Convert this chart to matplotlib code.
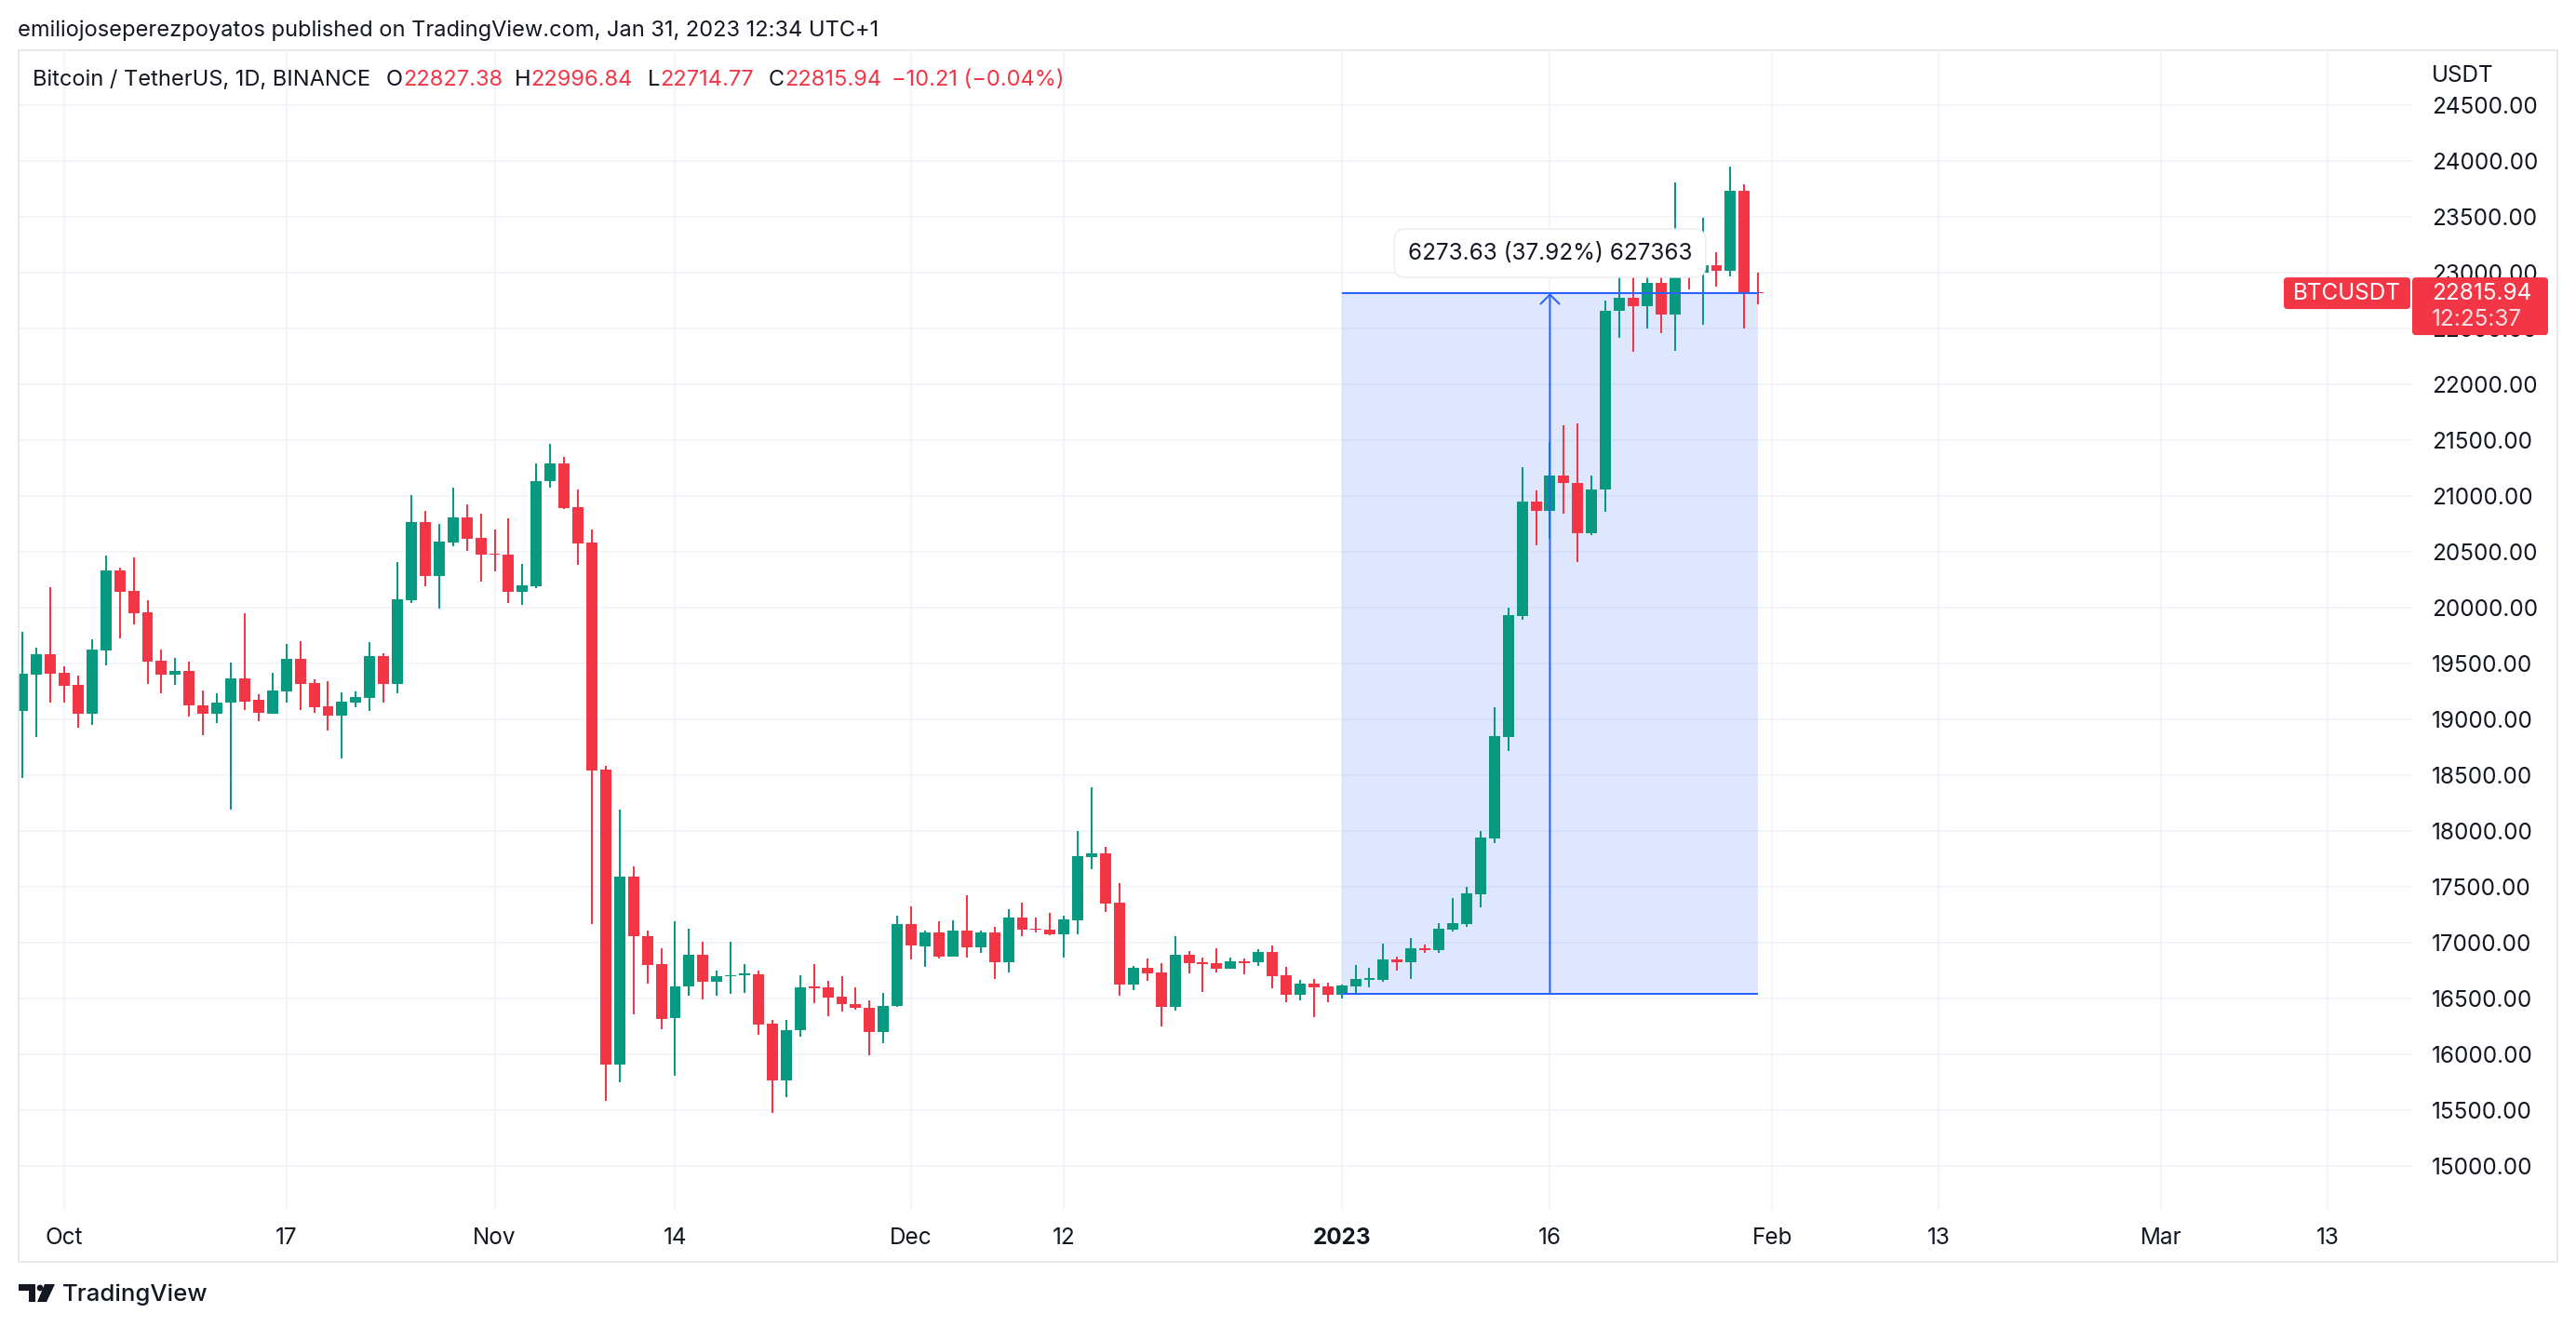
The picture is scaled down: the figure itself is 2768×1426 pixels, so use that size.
"""BTCUSDT daily candles (Binance), TradingView-style snapshot with a price-range measure.

    python plot.py   -> writes out.png
"""
import numpy as np
import pandas as pd
import matplotlib
matplotlib.use("Agg")
import matplotlib.pyplot as plt
import matplotlib.dates as mdates
from matplotlib.patches import FancyBboxPatch, Rectangle, Polygon, Circle
from matplotlib.transforms import IdentityTransform

plt.rcParams["font.family"] = ["Inter", "DejaVu Sans"]

# ---- data ----
dates = pd.date_range("2022-09-28", "2023-01-31", freq="D")
opens = [19071, 19403, 19583, 19417, 19309, 19046, 19619, 20331, 20148, 19957,
         19525, 19403, 19434, 19126, 19046, 19146, 19367, 19178, 19054, 19254,
         19541, 19326, 19118, 19030, 19154, 19195, 19567, 19320, 20068, 20763,
         20284, 20583, 20805, 20622, 20486, 20472, 20143, 20193, 21132, 21295,
         20896, 20580, 18549, 15909, 17593, 17062, 16804, 16326, 16608, 16894,
         16649, 16696, 16712, 16716, 16273, 15766, 16216, 16604, 16596, 16514,
         16453, 16420, 16200, 16432, 17164, 16967, 17089, 16872, 17105, 16955,
         17089, 16825, 17222, 17128, 17120, 17072, 17197, 17764, 17797, 17355,
         16625, 16772, 16730, 16425, 16889, 16822, 16814, 16767, 16836, 16825,
         16914, 16705, 16533, 16631, 16605, 16536, 16607, 16666, 16666, 16848,
         16826, 16953, 16934, 17119, 17168, 17435, 17934, 18841, 19926, 20951,
         20866, 21180, 21119, 20664, 21055, 22655, 22778, 22697, 22911, 22622,
         23053, 22997, 23069, 23014, 23736, 22827.38]
highs = [19783, 19641, 20181, 19475, 19392, 19716, 20464, 20356, 20447, 20065,
         19625, 19550, 19517, 19259, 19234, 19508, 19949, 19226, 19417, 19675,
         19700, 19359, 19342, 19242, 19251, 19692, 19592, 20406, 21012, 20863,
         20747, 21079, 20921, 20838, 20697, 20796, 20389, 21295, 21470, 21353,
         21062, 20699, 18586, 18194, 17687, 17110, 16947, 17188, 17127, 17012,
         16747, 17004, 16812, 16747, 16309, 16310, 16710, 16804, 16661, 16698,
         16596, 16481, 16547, 17245, 17322, 17105, 17189, 17197, 17422, 17105,
         17139, 17297, 17355, 17222, 17264, 17239, 17997, 18389, 17855, 17530,
         16789, 16855, 16814, 17056, 16922, 16864, 16947, 16864, 16855, 16939,
         16972, 16780, 16664, 16672, 16639, 16625, 16800, 16774, 16989, 16874,
         17042, 16982, 17172, 17398, 17499, 17997, 19112, 19997, 21260, 21052,
         21480, 21636, 21647, 21186, 22750, 23369, 23069, 23175, 23147, 23811,
         23278, 23494, 23186, 23953, 23794, 22996.84]
lows = [18472, 18838, 19154, 19154, 18921, 18954, 19486, 19724, 19849, 19317,
        19234, 19309, 19021, 18855, 18963, 18190, 19082, 18982, 19050, 19146,
        19087, 19062, 18896, 18647, 19112, 19071, 19154, 19237, 20043, 20193,
        19993, 20550, 20508, 20234, 20326, 20043, 20027, 20176, 21073, 20883,
        20384, 17168, 15586, 15749, 16355, 16632, 16224, 15811, 16526, 16489,
        16522, 16543, 16551, 16175, 15476, 15619, 16158, 16457, 16342, 16383,
        16396, 15991, 16101, 16424, 16850, 16783, 16858, 16872, 16864, 16908,
        16675, 16733, 17058, 17092, 17064, 16867, 17072, 17658, 17272, 16525,
        16575, 16658, 16250, 16392, 16725, 16558, 16733, 16767, 16716, 16792,
        16592, 16467, 16485, 16333, 16467, 16503, 16544, 16603, 16648, 16748,
        16673, 16912, 16912, 17101, 17142, 17320, 17893, 18718, 19892, 20558,
        20617, 20839, 20408, 20653, 20855, 22414, 22289, 22497, 22455, 22297,
        22847, 22530, 22872, 22964, 22497, 22714.77]
closes = [19409, 19583, 19409, 19303, 19046, 19625, 20331, 20140, 19949, 19519,
          19403, 19434, 19121, 19046, 19151, 19367, 19162, 19062, 19259, 19541,
          19320, 19112, 19030, 19159, 19201, 19567, 19320, 20073, 20763, 20284,
          20589, 20805, 20616, 20475, 20475, 20143, 20198, 21137, 21295, 20891,
          20575, 18542, 15909, 17593, 17057, 16800, 16318, 16612, 16894, 16649,
          16700, 16712, 16720, 16269, 15766, 16220, 16596, 16592, 16510, 16449,
          16416, 16200, 16436, 17164, 16975, 17089, 16872, 17105, 16955, 17089,
          16825, 17222, 17114, 17114, 17072, 17205, 17772, 17797, 17347, 16625,
          16772, 16722, 16425, 16889, 16817, 16808, 16767, 16833, 16820, 16914,
          16700, 16533, 16631, 16600, 16533, 16614, 16673, 16681, 16848, 16826,
          16949, 16934, 17123, 17172, 17439, 17941, 18848, 19930, 20951, 20866,
          21186, 21119, 20664, 21061, 22661, 22778, 22697, 22911, 22622, 23053,
          22997, 23069, 23014, 23736, 22827, 22815.94]

price_ticks = [15000, 15500, 16000, 16500, 17000, 17500, 18000, 18500, 19000, 19500,
               20000, 20500, 21000, 21500, 22000, 22500, 23000, 23500, 24000, 24500]
date_ticks = ["2022-10-01", "2022-10-17", "2022-11-01", "2022-11-14", "2022-12-01",
              "2022-12-12", "2023-01-01", "2023-01-16", "2023-02-01", "2023-02-13",
              "2023-03-01", "2023-03-13"]
date_labels = ["Oct", "17", "Nov", "14", "Dec", "12", "2023", "16", "Feb", "13", "Mar", "13"]

measure_from, measure_to, measure_mid = "2023-01-01", "2023-01-31", "2023-01-16"
measure_low, measure_high = 16542.31, 22815.94
measure_text = "6273.63 (37.92%) 627363"

symbol = "BTCUSDT"
last_price = 22815.94
countdown = "12:25:37"
publish_line = "emiliojoseperezpoyatos published on TradingView.com, Jan 31, 2023 12:34 UTC+1"
title_line = "Bitcoin / TetherUS, 1D, BINANCE"
ohlc_header = [("O", "22827.38"), ("H", "22996.84"), ("L", "22714.77"), ("C", "22815.94")]
change_text = "\u221210.21 (\u22120.04%)"

# ---- style ----
UP, DOWN, BLUE = "#089981", "#F23645", "#2962FF"
TEXT, GRID, FRAME = "#131722", "#F0F3FA", "#E0E3EB"
W, H = 2768, 1426
FS = 17.5
HFS = 17.0  # header size


def fx(px):
    return px / W


def fy(py):
    return 1 - py / H


fig = plt.figure(figsize=(W / 100, H / 100), dpi=100)
fig.patch.set_facecolor("white")
ax = fig.add_axes([fx(20), fy(1300), fx(2592 - 20), (1300 - 54) / H])

oct1 = mdates.date2num(pd.Timestamp("2022-10-01"))
ax.set_xlim(oct1 - 3.284, oct1 + 169.1)
ax.set_ylim(14608, 24992)

# candles
x = mdates.date2num(dates)
o, h, l, c = (np.asarray(a, dtype=float) for a in (opens, highs, lows, closes))
col = np.where(c >= o, UP, DOWN)
body_lo = np.minimum(o, c)
body_h = np.maximum(np.abs(c - o), 12)
ax.vlines(x, l, h, colors=col, linewidth=1.45, zorder=3)
ax.bar(x, body_h, bottom=body_lo, width=0.8, color=col, linewidth=0, zorder=4)

# price range measure
m0, m1, mm = (mdates.date2num(pd.Timestamp(d)) for d in (measure_from, measure_to, measure_mid))
ax.fill_between([m0, m1], measure_low, measure_high, color=BLUE, alpha=0.15, lw=0, zorder=2)
ax.hlines([measure_low, measure_high], m0, m1, colors=BLUE, linewidth=1.45, zorder=5)
ax.annotate("", xy=(mm, measure_high), xytext=(mm, measure_low),
            arrowprops=dict(arrowstyle="->,head_length=0.36,head_width=0.36", color=BLUE,
                            lw=1.45, shrinkA=0, shrinkB=0, mutation_scale=20), zorder=5)
ax.annotate(measure_text, xy=(mm, measure_high), xytext=(0, 31), textcoords="offset points",
            ha="center", va="center", fontsize=FS, color=TEXT, zorder=6,
            bbox=dict(boxstyle="round,pad=0.6,rounding_size=0.5", fc="white", ec="#E6E8EE", lw=0.8))

# axes, ticks, grid
for s in ax.spines.values():
    s.set_visible(False)
ax.yaxis.tick_right()
ax.set_yticks(price_ticks)
ax.set_yticklabels([f"{v:.2f}" for v in price_ticks])
ax.tick_params(axis="y", length=0, pad=15, labelsize=FS, labelcolor=TEXT)
ax.set_xticks(mdates.date2num(pd.to_datetime(date_ticks)))
ax.set_xticklabels(date_labels)
ax.tick_params(axis="x", length=0, pad=14, labelsize=FS, labelcolor=TEXT)
for lab in ax.get_xticklabels():
    if lab.get_text() == "2023":
        lab.set_fontweight("bold")
ax.set_axisbelow(True)
ax.grid(True, color=GRID, linewidth=1.1)

# outer frame
fig.add_artist(Rectangle((20, H - 1356), 2728, 1302, transform=IdentityTransform(),
                         fill=False, ec=FRAME, lw=1.1))

# header
fig.text(fx(19), fy(33), publish_line, fontsize=HFS, color=TEXT, va="center")
fig.text(fx(35), fy(86), title_line, fontsize=HFS, color=TEXT, va="center")
renderer = fig.canvas.get_renderer()
for (letter, val), xp in zip(ohlc_header, [415, 553, 696, 826]):
    t = fig.text(fx(xp), fy(86), letter, fontsize=HFS, color=TEXT, va="center")
    bb = t.get_window_extent(renderer=renderer)
    fig.text(bb.x1 / W, fy(86), val, fontsize=HFS, color=DOWN, va="center")
fig.text(fx(958), fy(86), change_text, fontsize=HFS, color=DOWN, va="center")

# price scale extras
fig.text(fx(2613), fy(81), "USDT", fontsize=FS, color=TEXT, va="center")
py = ax.transData.transform((m1, last_price))[1]
fig.add_artist(FancyBboxPatch((2454, py - 17), 136, 34, boxstyle="round,pad=0,rounding_size=4",
                              transform=IdentityTransform(), fc=DOWN, ec="none", zorder=5))
fig.add_artist(FancyBboxPatch((2592, py - 45), 146, 62, boxstyle="round,pad=0,rounding_size=4",
                              transform=IdentityTransform(), fc=DOWN, ec="none", zorder=5))
fig.text(fx(2522), py / H, symbol, fontsize=FS, color="white", ha="center", va="center", zorder=6)
fig.text(fx(2613), py / H, f"{last_price:.2f}", fontsize=FS, color="white", va="center", zorder=6)
fig.text(fx(2613), (py - 28) / H, countdown, fontsize=FS, color="white", alpha=0.85,
         va="center", zorder=6)

# TradingView logo + wordmark
logo = [
    Polygon([(20, H - 1380), (38, H - 1380), (38, H - 1399), (31, H - 1399), (31, H - 1387), (20, H - 1387)]),
    Circle((43, H - 1384), 3.4),
    Polygon([(48, H - 1380), (59, H - 1380), (50, H - 1399), (40, H - 1399)]),
]
for p in logo:
    p.set_transform(IdentityTransform())
    p.set_facecolor(TEXT)
    p.set_edgecolor("none")
    fig.add_artist(p)
fig.text(fx(67), fy(1391), "TradingView", fontsize=FS + 1, color=TEXT, va="center", fontweight="medium")

fig.savefig("out.png", dpi=100, facecolor="white")
